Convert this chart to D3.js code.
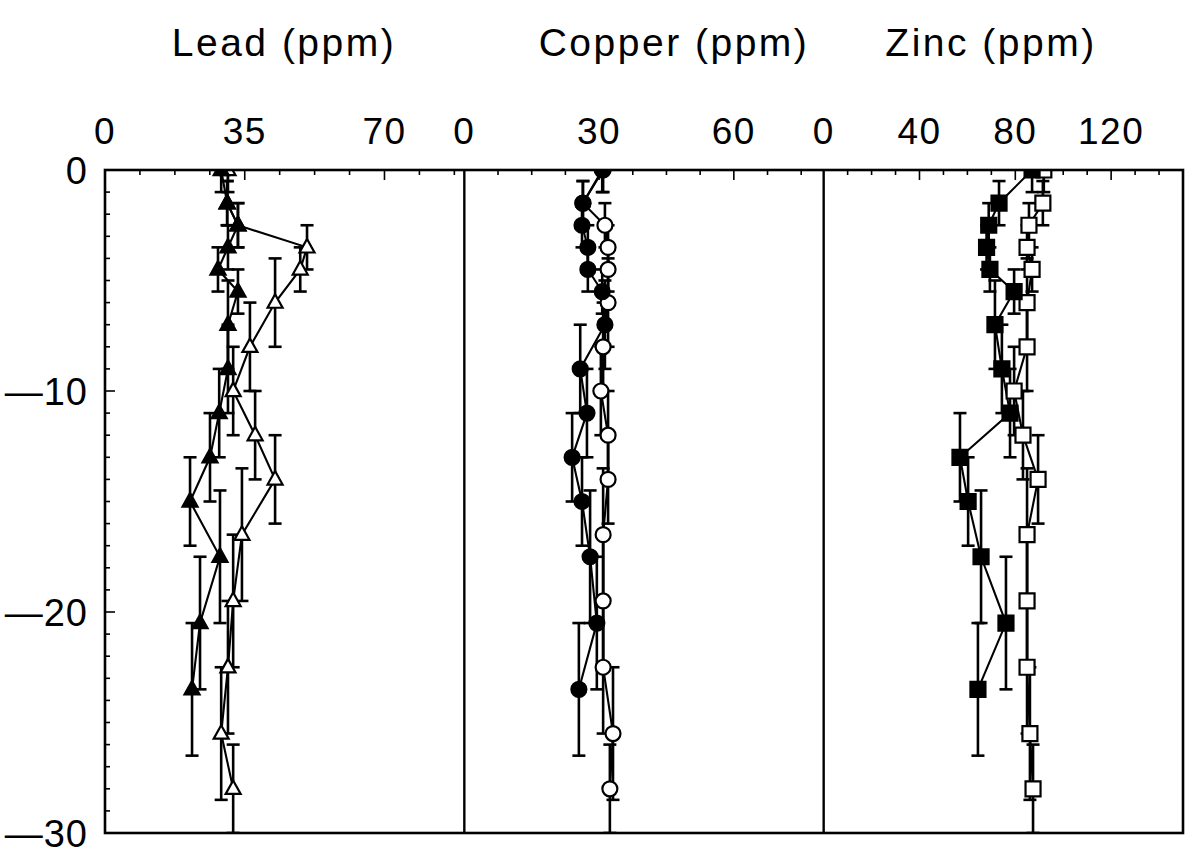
<!DOCTYPE html>
<html>
<head>
<meta charset="utf-8">
<script src="https://cdn.jsdelivr.net/npm/d3@7"></script>
<style>
  html, body { margin: 0; padding: 0; background: #fff; }
  svg { display: block; }
  text { font-family: "Liberation Sans", "DejaVu Sans", sans-serif; fill: #000; }
</style>
</head>
<body>
<svg id="chart" width="1190" height="858"></svg>
<script>
// Sample depths (cm) and depth half-ranges for the two cores
const depthFilled = [0, -1.5, -2.5, -3.5, -4.5, -5.5, -7, -9, -11, -13, -15, -17.5, -20.5, -23.5];
const errFilled   = [1, 1, 1, 1, 1, 1, 2, 2, 2, 2, 2, 3, 3, 3];
const depthOpen   = [0, -1.5, -2.5, -3.5, -4.5, -6, -8, -10, -12, -14, -16.5, -19.5, -22.5, -25.5, -28];
const errOpen     = [1, 1, 1, 1, 1, 2, 2, 2, 2, 2, 3, 3, 3, 3, 2];

// Concentrations (ppm)
const leadFilled   = [29.1, 30.6, 33.3, 30.8, 28.3, 33.3, 30.8, 30.8, 28.6, 26.3, 21.3, 28.8, 23.8, 21.8];
const leadOpen     = [30.8, 30.6, 33.3, 50.6, 48.9, 42.6, 36.3, 32.1, 37.6, 42.6, 34.3, 32.1, 30.8, 29.1, 32.1];
const copperFilled = [30.9, 26.4, 26.2, 27.5, 27.5, 30.7, 31.3, 25.8, 27.3, 24.0, 26.2, 28.0, 29.5, 25.5];
const copperOpen   = [30.7, 26.4, 31.3, 32.0, 32.0, 32.0, 30.9, 30.4, 32.0, 32.0, 30.9, 30.9, 30.9, 33.1, 32.4];
const zincFilled   = [87.0, 73.2, 68.9, 68.0, 69.4, 79.5, 71.5, 74.4, 77.8, 56.9, 60.3, 65.7, 76.1, 64.4];
const zincOpen     = [91.9, 91.5, 85.7, 84.9, 87.0, 84.9, 84.9, 79.5, 83.2, 89.5, 84.9, 84.9, 84.9, 86.1, 87.4];

// Axis tick labels
const leadTicks   = [0, 35, 70];
const copperTicks = [0, 30, 60];
const zincTicks   = [0, 40, 80, 120];
const depthTicks  = [0, -10, -20, -30];

const panels = [
  { title: "Lead (ppm)",   titleX: 284, domain: [0, 90],  ticks: leadTicks,   minor: 8.75, filled: leadFilled,   open: leadOpen,   shape: "triangle" },
  { title: "Copper (ppm)", titleX: 674, domain: [0, 80],  ticks: copperTicks, minor: 7.5,  filled: copperFilled, open: copperOpen, shape: "circle" },
  { title: "Zinc (ppm)",   titleX: 991, domain: [0, 150], ticks: zincTicks,   minor: 10,   filled: zincFilled,   open: zincOpen,   shape: "square" }
];

const svg = d3.select("#chart");
const plotL = 105, plotR = 1183, plotT = 170, plotB = 833;
const pw = (plotR - plotL) / panels.length;

const y = d3.scaleLinear().domain([0, -30]).range([plotT, plotB]);

svg.append("defs").append("clipPath").attr("id", "plotClip")
  .append("rect").attr("x", plotL).attr("y", plotT).attr("width", plotR - plotL).attr("height", plotB - plotT);

// Depth axis: ticks every 1 cm pointing inward, labels every 10
const yAxisG = svg.append("g");
d3.range(0, -30.001, -1).forEach(v => {
  const major = Math.abs(v % 10) < 1e-6;
  yAxisG.append("line")
    .attr("x1", plotL).attr("x2", plotL + (major ? 10 : 5))
    .attr("y1", y(v)).attr("y2", y(v))
    .attr("stroke", "#000").attr("stroke-width", 1.6);
});
yAxisG.selectAll("text.ylab").data(depthTicks).join("text")
  .attr("class", "ylab")
  .attr("x", 88).attr("y", d => y(d) + 14)
  .attr("text-anchor", "end")
  .attr("font-size", 38)
  .attr("letter-spacing", 1)
  .text(d => d === 0 ? "0" : "\u2014" + Math.abs(d));

function markerPath(shape, s) {
  if (shape === "triangle") {
    const h = s * 0.9;
    return `M0,${-h * 0.62}L${s / 2},${h * 0.38}L${-s / 2},${h * 0.38}Z`;
  }
  if (shape === "square") {
    return `M${-s / 2},${-s / 2}h${s}v${s}h${-s}Z`;
  }
  const r = s / 2;
  return `M${-r},0A${r},${r} 0 1,0 ${r},0A${r},${r} 0 1,0 ${-r},0Z`;
}

panels.forEach((p, i) => {
  const x0 = plotL + i * pw, x1 = x0 + pw;
  const x = d3.scaleLinear().domain(p.domain).range([x0, x1]);
  const g = svg.append("g");

  // title
  g.append("text")
    .attr("x", p.titleX).attr("y", 56)
    .attr("text-anchor", "middle").attr("font-size", 39)
    .attr("letter-spacing", 2.5)
    .text(p.title);

  // top tick labels
  g.selectAll("text.xlab").data(p.ticks).join("text")
    .attr("class", "xlab")
    .attr("x", d => x(d)).attr("y", 144)
    .attr("text-anchor", "middle").attr("font-size", 37)
    .attr("letter-spacing", 1.5)
    .text(d => d);

  // top ticks pointing down into the panel
  const minorVals = d3.range(p.minor, p.domain[1] - 1e-6, p.minor);
  const majorStep = p.ticks[1];
  minorVals.forEach(v => {
    const isMajor = Math.abs(v / majorStep - Math.round(v / majorStep)) < 1e-6;
    g.append("line")
      .attr("x1", x(v)).attr("x2", x(v))
      .attr("y1", plotT).attr("y2", plotT + (isMajor ? 10 : 5))
      .attr("stroke", "#000").attr("stroke-width", 1.6);
  });

  const data = g.append("g").attr("clip-path", "url(#plotClip)");

  // open core drawn first so the filled core sits on top where they overlap
  const series = [
    { vals: p.open,   depths: depthOpen,   errs: errOpen,   fill: "#fff" },
    { vals: p.filled, depths: depthFilled, errs: errFilled, fill: "#000" }
  ];

  series.forEach(s => {
    const pts = s.vals.map((v, k) => ({ v, d: s.depths[k], e: s.errs[k] }));
    // connecting line
    data.append("path")
      .datum(pts)
      .attr("fill", "none").attr("stroke", "#000").attr("stroke-width", 2.1)
      .attr("d", d3.line().x(d => x(d.v)).y(d => y(d.d)));
    // depth-range bars with caps
    pts.forEach(d => {
      const cx = x(d.v);
      data.append("line")
        .attr("x1", cx).attr("x2", cx)
        .attr("y1", y(d.d + d.e)).attr("y2", y(d.d - d.e))
        .attr("stroke", "#000").attr("stroke-width", 2.6);
      [d.d + d.e, d.d - d.e].forEach(c => {
        data.append("line")
          .attr("x1", cx - 6.5).attr("x2", cx + 6.5)
          .attr("y1", y(c)).attr("y2", y(c))
          .attr("stroke", "#000").attr("stroke-width", 2.6);
      });
    });
  });

  series.forEach(s => {
    const size = p.shape === "triangle" ? 15 : 15;
    data.append("g").selectAll("path").data(s.vals.map((v, k) => ({ v, d: s.depths[k] }))).join("path")
      .attr("transform", d => `translate(${x(d.v)},${y(d.d)})`)
      .attr("d", markerPath(p.shape, size))
      .attr("fill", s.fill).attr("stroke", "#000").attr("stroke-width", 2.2);
  });
});

// frame and panel dividers
svg.append("rect")
  .attr("x", plotL).attr("y", plotT).attr("width", plotR - plotL).attr("height", plotB - plotT)
  .attr("fill", "none").attr("stroke", "#000").attr("stroke-width", 2.6);
for (let i = 1; i < panels.length; i++) {
  svg.append("line")
    .attr("x1", plotL + i * pw).attr("x2", plotL + i * pw)
    .attr("y1", plotT).attr("y2", plotB)
    .attr("stroke", "#000").attr("stroke-width", 2.4);
}
</script>
</body>
</html>
